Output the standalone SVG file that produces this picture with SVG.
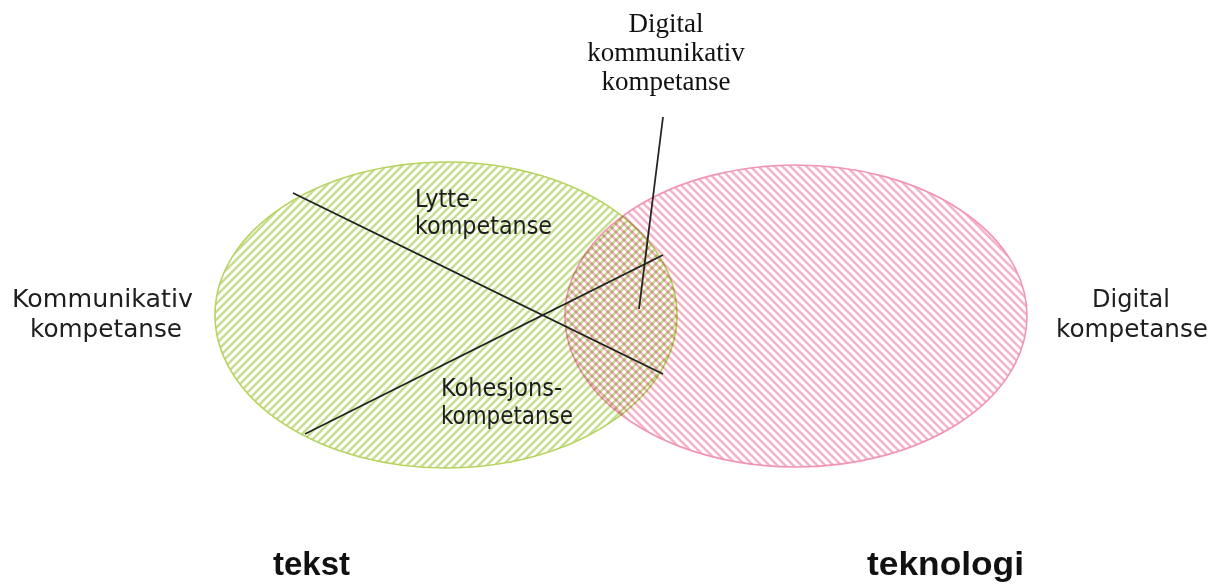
<svg xmlns="http://www.w3.org/2000/svg" width="1231" height="585" viewBox="0 0 1231 585">
  <defs>
    <pattern id="hatchGreen" patternUnits="userSpaceOnUse" width="8" height="8">
      <path d="M-2,2 L2,-2 M0,8 L8,0 M6,10 L10,6" stroke="#c6df8e" stroke-width="2.5" fill="none"/>
    </pattern>
    <pattern id="hatchPink" patternUnits="userSpaceOnUse" width="8" height="8">
      <path d="M-2,6 L2,10 M0,0 L8,8 M6,-2 L10,2" stroke="#f6b3ca" stroke-width="2.5" fill="none"/>
    </pattern>
    <style>
      .lbl { font-family: "DejaVu Sans Condensed", "DejaVu Sans", Verdana, sans-serif; font-size: 24px; fill: #1e1e1e; }
      .side { font-family: "DejaVu Sans", Verdana, sans-serif; font-size: 25px; fill: #1e1e1e; }
      .big { font-family: "Liberation Sans", Arial, sans-serif; font-size: 33px; font-weight: bold; fill: #111; }
      .serif { font-family: "Liberation Serif", "Times New Roman", serif; font-size: 27px; fill: #111; text-anchor: middle; }
      .conn { stroke: #222; stroke-width: 1.8; fill: none; }
    </style>
  </defs>
  <rect width="1231" height="585" fill="#fff"/>

  <g id="teknologi-circle">
    <ellipse cx="796" cy="316" rx="231" ry="151" fill="url(#hatchPink)" stroke="#f095b3" stroke-width="1.6"/>
  </g>
  <g id="tekst-circle" style="mix-blend-mode: multiply">
    <ellipse cx="446" cy="315" rx="231" ry="153" fill="url(#hatchGreen)" stroke="#b6d35e" stroke-width="1.6"/>
  </g>

  <g id="connectors">
    <line class="conn" x1="293" y1="193" x2="663" y2="374"/>
    <line class="conn" x1="305" y1="434" x2="663" y2="255"/>
    <line class="conn" x1="663" y1="117" x2="639" y2="309"/>
  </g>

  <g id="lytte">
    <text class="lbl" x="415" y="207" textLength="63" lengthAdjust="spacingAndGlyphs">Lytte-</text>
    <text class="lbl" x="415" y="234" textLength="137" lengthAdjust="spacingAndGlyphs">kompetanse</text>
  </g>
  <g id="kohesjon">
    <text class="lbl" x="441" y="396" textLength="121" lengthAdjust="spacingAndGlyphs">Kohesjons-</text>
    <text class="lbl" x="441" y="424" textLength="132" lengthAdjust="spacingAndGlyphs">kompetanse</text>
  </g>
  <g id="kommunikativ">
    <text class="side" x="12" y="307" textLength="181" lengthAdjust="spacingAndGlyphs">Kommunikativ</text>
    <text class="side" x="30" y="337" textLength="152" lengthAdjust="spacingAndGlyphs">kompetanse</text>
  </g>
  <g id="digital">
    <text class="side" x="1092" y="307" textLength="78" lengthAdjust="spacingAndGlyphs">Digital</text>
    <text class="side" x="1056" y="337" textLength="152" lengthAdjust="spacingAndGlyphs">kompetanse</text>
  </g>
  <g id="digital-kommunikativ">
    <text class="serif" x="666" y="32">Digital</text>
    <text class="serif" x="666" y="61">kommunikativ</text>
    <text class="serif" x="666" y="90">kompetanse</text>
  </g>
  <g id="tekst">
    <text class="big" x="273" y="575" textLength="77" lengthAdjust="spacingAndGlyphs">tekst</text>
  </g>
  <g id="teknologi">
    <text class="big" x="867" y="575" textLength="157" lengthAdjust="spacingAndGlyphs">teknologi</text>
  </g>
</svg>
